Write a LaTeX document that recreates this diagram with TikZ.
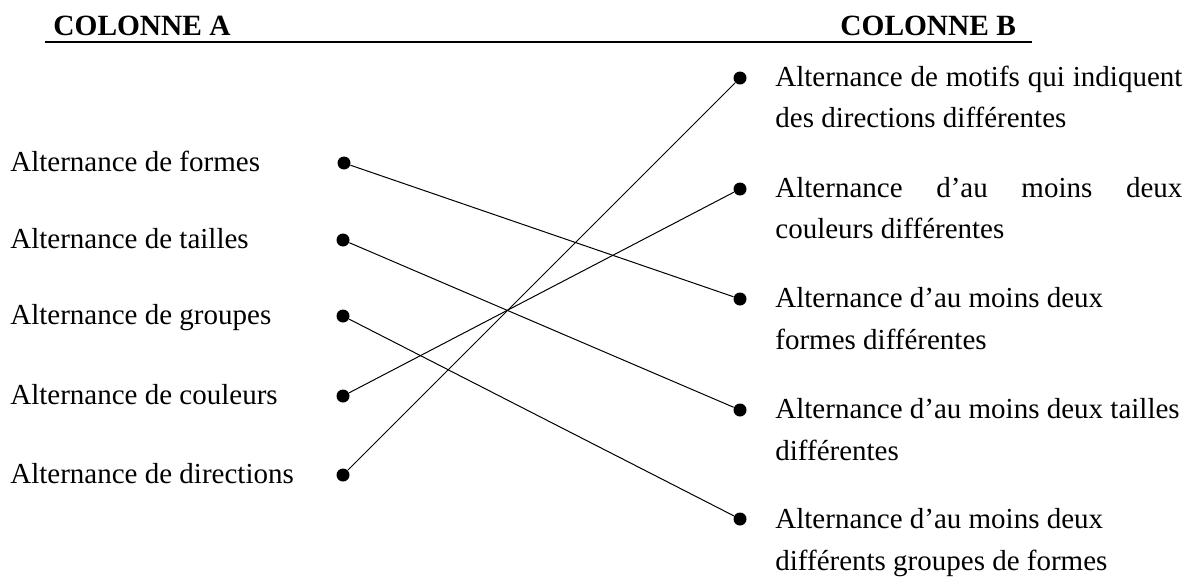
\documentclass[tikz,border=0pt]{standalone}
\usepackage{fontspec}
\setmainfont{Liberation Serif}
\begin{document}
\begin{tikzpicture}[x=0.5pt,y=-0.5pt,
  lbl/.style={anchor=base west,inner sep=0pt,font=\fontsize{14.5pt}{17pt}\selectfont},
  head/.style={anchor=base west,inner sep=0pt,font=\fontsize{14.7pt}{17pt}\selectfont\bfseries},
  dot/.style={circle,fill=black,minimum size=6.5pt,inner sep=0pt},
  link/.style={line width=0.5pt}]
\useasboundingbox (0,0) rectangle (1189,578);
% headers
\node[head] (ha) at (53,35) {COLONNE A};
\node[head] (hb) at (840,35) {COLONNE B};
\coordinate (ul1) at (45,42);
\coordinate (ul2) at (1032,42);
\draw[line width=1pt] (ul1) -- (ul2);
% column A
\node[lbl] (a1) at (10,171) {Alternance de formes};
\node[lbl] (a2) at (10,248) {Alternance de tailles};
\node[lbl] (a3) at (10,324) {Alternance de groupes};
\node[lbl] (a4) at (10,404) {Alternance de couleurs};
\node[lbl] (a5) at (10,483) {Alternance de directions};
\node[dot] (da1) at (344,163) {};
\node[dot] (da2) at (343,240) {};
\node[dot] (da3) at (343,316) {};
\node[dot] (da4) at (343,396) {};
\node[dot] (da5) at (343,475) {};
% column B
\node[dot] (db1) at (740,78) {};
\node[dot] (db2) at (740,189) {};
\node[dot] (db3) at (740,299) {};
\node[dot] (db4) at (740,410) {};
\node[dot] (db5) at (740,519) {};
\node[lbl] (b1a) at (775,86) {\makebox[203.5pt][s]{Alternance de motifs qui indiquent}};
\node[lbl] (b1b) at (775,127) {des directions différentes};
\node[lbl] (b2a) at (775,197) {\makebox[203.5pt][s]{Alternance d’au moins deux}};
\node[lbl] (b2b) at (775,238) {couleurs différentes};
\node[lbl] (b3a) at (775,307) {Alternance d’au moins deux};
\node[lbl] (b3b) at (775,349) {formes différentes};
\node[lbl] (b4a) at (775,418) {Alternance d’au moins deux tailles};
\node[lbl] (b4b) at (775,460) {différentes};
\node[lbl] (b5a) at (775,528) {Alternance d’au moins deux};
\node[lbl] (b5b) at (775,570) {différents groupes de formes};
% links
\draw[link] (da1) -- (db3);
\draw[link] (da2) -- (db4);
\draw[link] (da3) -- (db5);
\draw[link] (da4) -- (db2);
\draw[link] (da5) -- (db1);
\end{tikzpicture}
\end{document}
